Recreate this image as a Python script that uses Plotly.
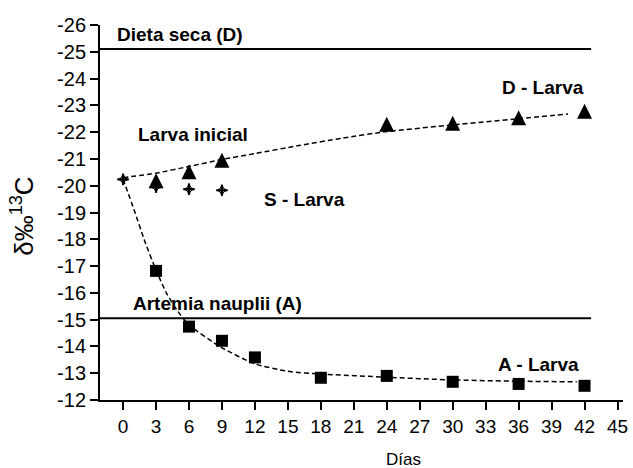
import plotly.graph_objects as go

# ---- data ----
days_D = [3, 6, 9, 24, 30, 36, 42]
d_larva = [-20.09, -20.43, -20.86, -22.20, -22.24, -22.44, -22.69]

days_A = [3, 6, 9, 12, 18, 24, 30, 36, 42]
a_larva = [-16.82, -14.74, -14.21, -13.59, -12.83, -12.90, -12.68, -12.60, -12.53]

days_S = [0, 3, 6, 9]
s_larva = [-20.24, -19.95, -19.87, -19.83]

# dashed fitted curves
fit_days_D = [0, 3, 6, 9, 12, 16, 20, 24, 30, 36, 40.5]
fit_D = [-20.30, -20.47, -20.72, -20.98, -21.20, -21.50, -21.78, -22.02, -22.27, -22.50, -22.68]

fit_days_A = [0, 1, 2, 3, 4, 5, 6, 9, 12, 15, 18, 24, 30, 36, 41.3]
fit_A = [-20.25, -19.10, -17.90, -16.85, -15.95, -15.30, -14.80, -13.95, -13.35, -13.07,
         -12.97, -12.85, -12.75, -12.70, -12.68]

# reference diet levels
diet_names = ["Dieta seca (D)", "Artemia nauplii (A)"]
diet_levels = [-25.10, -15.05]
diet_days = [-2.1, 42.6]

x_ticks = list(range(0, 46, 3))
y_ticks = list(range(-26, -11))
y_ticktext = [f"-{abs(v)}" for v in y_ticks]

FONT = "Liberation Sans, Arial, sans-serif"

fig = go.Figure()

for lvl in diet_levels:
    fig.add_trace(go.Scatter(x=diet_days, y=[lvl, lvl], mode="lines",
                             line=dict(color="black", width=2), hoverinfo="skip"))

fig.add_trace(go.Scatter(x=fit_days_D, y=fit_D, mode="lines",
                         line=dict(color="black", width=1.5, dash="5px,3px",
                                   shape="spline", smoothing=0.6)))
fig.add_trace(go.Scatter(x=fit_days_A, y=fit_A, mode="lines",
                         line=dict(color="black", width=1.5, dash="5px,3px",
                                   shape="spline", smoothing=0.6)))

# S - Larva: a thin cross with a small arrowhead at each of its four tips
fig.add_trace(go.Scatter(x=days_S, y=s_larva, mode="markers",
                         marker=dict(symbol="cross-thin", size=8, color="black",
                                     line=dict(width=2.2, color="black"))))
arrow_angles = [0, 90, 180, 270]
fig.add_trace(go.Scatter(
    x=[d for d in days_S for _ in arrow_angles],
    y=[v for v in s_larva for _ in arrow_angles],
    mode="markers",
    marker=dict(symbol="arrow-down", size=4.5, color="black", line=dict(width=0),
                angle=arrow_angles * len(days_S), standoff=6.2)))

# upward triangle (tip-anchored arrow rotated and shifted so its centroid sits on the point)
tri_size = 15
fig.add_trace(go.Scatter(x=days_D, y=d_larva, mode="markers",
                         marker=dict(symbol="arrow-down", size=tri_size, color="black",
                                     angle=180, standoff=tri_size * 2 / 3,
                                     line=dict(width=0))))
fig.add_trace(go.Scatter(x=days_A, y=a_larva, mode="markers",
                         marker=dict(symbol="square", size=12, color="black")))

lab_font = dict(family=FONT, size=19, color="black")
labels = [
    ("<b>Dieta seca (D)</b>", -0.75, -25.63),
    ("<b>Larva inicial</b>", 1.2, -21.93),
    ("<b>S - Larva</b>", 12.6, -19.47),
    ("<b>D - Larva</b>", 34.3, -23.66),
    ("<b>Artemia nauplii (A)</b>", 0.76, -15.6),
    ("<b>A - Larva</b>", 33.97, -13.31),
]
for txt, x, y in labels:
    fig.add_annotation(x=x, y=y, text=txt, showarrow=False, xanchor="left",
                       yanchor="middle", font=lab_font)

fig.add_annotation(xref="paper", yref="paper", x=-0.148, y=0.49, text="δ‰<sup>13</sup>C",
                   textangle=-90, showarrow=False, xanchor="center", yanchor="middle",
                   font=dict(family=FONT, size=26, color="black"))
fig.add_annotation(xref="paper", yref="paper", x=0.581, y=-0.16, text="Días",
                   showarrow=False, xanchor="center", yanchor="middle",
                   font=dict(family=FONT, size=17, color="black"))

fig.update_layout(
    width=633, height=468,
    margin=dict(l=100, r=5, t=25, b=68),
    plot_bgcolor="white", paper_bgcolor="white",
    showlegend=False,
    font=dict(family=FONT, color="black"),
    xaxis=dict(range=[-2.1, 45.5], tickvals=x_ticks, showline=True, linecolor="black",
               linewidth=2, ticks="outside", ticklen=8, tickwidth=2, tickcolor="black",
               showgrid=False, zeroline=False, ticklabeloverflow="allow",
               tickfont=dict(size=19, family=FONT)),
    yaxis=dict(range=[-12, -26], tickvals=y_ticks, ticktext=y_ticktext, showline=True,
               linecolor="black", linewidth=2, ticks="outside", ticklen=8, tickwidth=2,
               tickcolor="black", showgrid=False, zeroline=False,
               tickfont=dict(size=20, family=FONT)),
)

fig.write_html("out.html", config={"displayModeBar": False},
               post_script="document.body.style.margin='0';document.body.style.overflow='hidden';")
